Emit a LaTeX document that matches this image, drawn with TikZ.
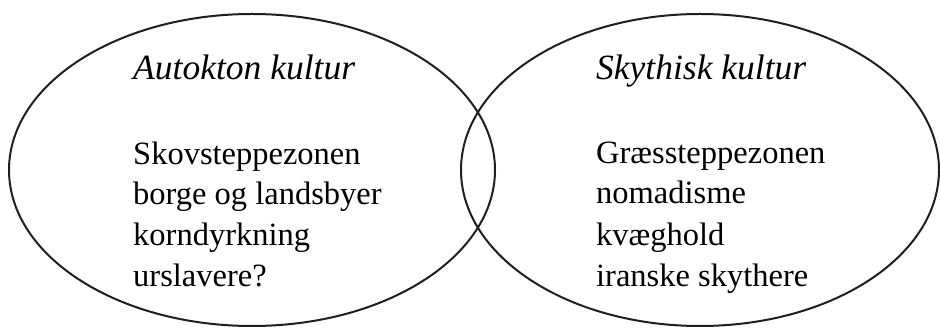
\documentclass[tikz,border=0pt]{standalone}
\usepackage{fontspec}
\setmainfont{Liberation Serif}
\begin{document}
\begin{tikzpicture}[x=1pt,y=1pt,
  circ/.style={line width=2pt, draw=black!88},
  body/.style={anchor=base west, inner sep=0pt, font=\fontsize{32.5}{41}\selectfont},
  head/.style={anchor=base west, inner sep=0pt, font=\fontsize{35.5}{41}\selectfont\itshape}]
\useasboundingbox (0,0) rectangle (940,329);
\draw[circ] (252,159) ellipse [x radius=243, y radius=156];
\draw[circ] (700,159) ellipse [x radius=239, y radius=156];
\node[head] (lt) at (133,249) {Autokton kultur};
\node[body] (l1) at (133,164) {Skovsteppezonen};
\node[body] (l2) at (133,124) {borge og landsbyer};
\node[body] (l3) at (133,83) {korndyrkning};
\node[body] (l4) at (133,42) {urslavere?};
\node[head] (rt) at (596,249) {Skythisk kultur};
\node[body] (r1) at (596,165) {Græssteppezonen};
\node[body] (r2) at (596,125) {nomadisme};
\node[body] (r3) at (596,83) {kvæghold};
\node[body] (r4) at (596,42) {iranske skythere};
\end{tikzpicture}
\end{document}
